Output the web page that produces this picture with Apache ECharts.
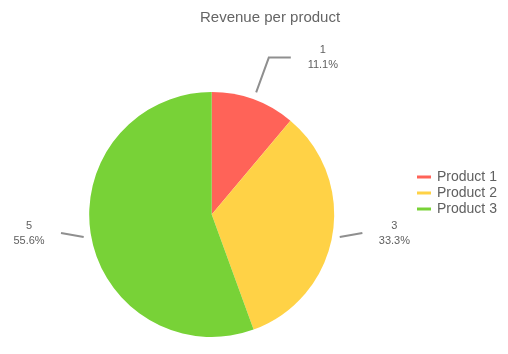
<!DOCTYPE html>
<html>
<head>
<meta charset="utf-8">
<script src="https://cdn.jsdelivr.net/npm/echarts@6/dist/echarts.min.js"></script>
<style>html,body{margin:0;padding:0;background:#fff}#c{width:508px;height:354px}</style>
</head>
<body>
<div id="c"></div>
<script>
const categories = ['Product 1', 'Product 2', 'Product 3'];
const values = [1, 3, 5];
const colors = ['#ff6358', '#ffd246', '#78d237'];
const titleText = 'Revenue per product';

const chart = echarts.init(document.getElementById('c'), null, {renderer: 'canvas'});
const center = [211.7, 214.5];
const lineLen = [37, 23, 23];
const lineLen2 = [22, 0, 0];
const labelShift = -8;

chart.setOption({
  animation: false,
  color: colors,
  title: {
    text: titleText,
    left: 200,
    top: 10,
    padding: 0,
    textStyle: {fontFamily: 'Liberation Sans, Arial, sans-serif', fontSize: 15, fontWeight: 'normal', color: '#656565'}
  },
  legend: {
    orient: 'vertical',
    left: 417,
    top: 170,
    padding: 0,
    itemWidth: 14,
    itemHeight: 3,
    itemGap: 2,
    icon: 'rect',
    textStyle: {fontFamily: 'Liberation Sans, Arial, sans-serif', fontSize: 14, color: '#606060', padding: [0, 0, 0, 1]},
    data: categories.map((n, i) => ({name: n, itemStyle: {color: colors[i]}}))
  },
  series: [
    {
      type: 'pie',
      center: center,
      radius: 122.5,
      startAngle: 90,
      clockwise: true,
      label: {show: false},
      labelLine: {show: false},
      silent: true,
      data: categories.map((n, i) => ({name: n, value: values[i], itemStyle: {color: colors[i]}}))
    },
    {
      type: 'pie',
      center: center,
      radius: 130,
      startAngle: 90,
      clockwise: true,
      avoidLabelOverlap: false,
      percentPrecision: 1,
      silent: true,
      itemStyle: {color: 'rgba(0,0,0,0)'},
      label: {
        show: true,
        position: 'outside',
        distanceToLabelLine: 16,
        formatter: '{v|{c}}\n{v|{d}%}',
        rich: {
          v: {fontFamily: 'Liberation Sans, Arial, sans-serif', fontSize: 11, lineHeight: 15, width: 32, align: 'center', color: '#606060'}
        }
      },
      labelLine: {show: true, lineStyle: {color: '#8f8f8f', width: 2}},
      labelLayout: function (params) {
        if (params.dataIndex === 0) return {};
        const p = params.labelLinePoints;
        if (!p) return {dy: labelShift};
        const end = [p[1][0], p[1][1] + labelShift];
        return {dy: labelShift, labelLinePoints: [p[0], end, end]};
      },
      data: categories.map((n, i) => ({
        name: n, value: values[i],
        itemStyle: {color: 'rgba(0,0,0,0)'},
        labelLine: {length: lineLen[i], length2: lineLen2[i]}
      }))
    }
  ]
});
</script>
</body>
</html>
